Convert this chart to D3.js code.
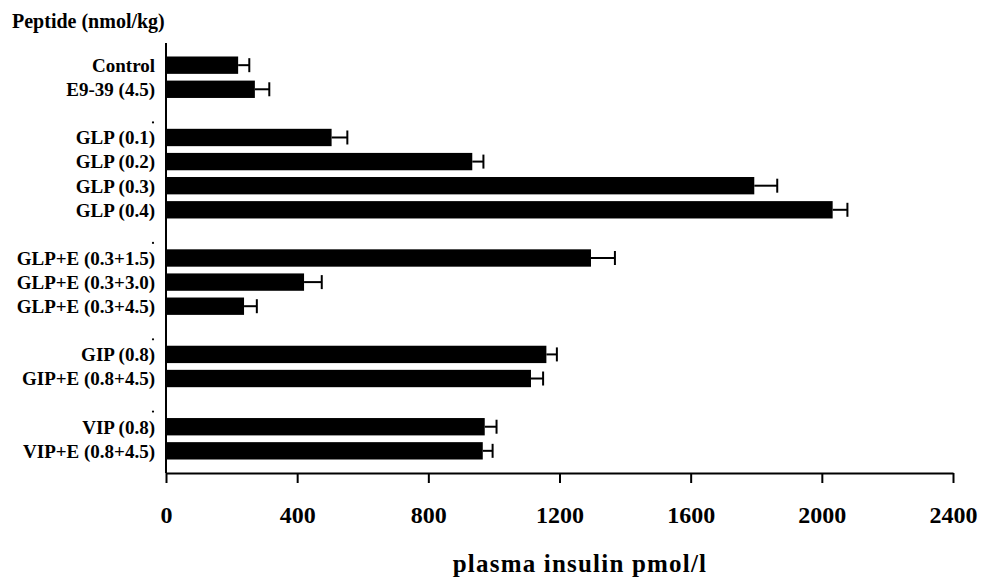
<!DOCTYPE html>
<html>
<head>
<meta charset="utf-8">
<script src="https://cdn.jsdelivr.net/npm/d3@7"></script>
<style>
  html, body { margin: 0; padding: 0; background: #fff; }
  svg { display: block; }
  text { font-family: "Liberation Serif", "Times New Roman", serif; fill: #000; }
</style>
</head>
<body>
<svg id="chart" width="981" height="578"></svg>
<script>
// ---- data ----
const labels = ["Control", "E9-39 (4.5)",
  "GLP (0.1)", "GLP (0.2)", "GLP (0.3)", "GLP (0.4)",
  "GLP+E (0.3+1.5)", "GLP+E (0.3+3.0)", "GLP+E (0.3+4.5)",
  "GIP (0.8)", "GIP+E (0.8+4.5)",
  "VIP (0.8)", "VIP+E (0.8+4.5)"];
const groups = [0, 0, 1, 1, 1, 1, 2, 2, 2, 3, 3, 4, 4];
const means  = [220, 271, 505, 934, 1794, 2033, 1296, 421, 238, 1160, 1113, 972, 966];
const sems   = [34, 44, 48, 34, 70, 45, 73, 54, 39, 32, 37, 36, 30];
const xTicks = [0, 400, 800, 1200, 1600, 2000, 2400];
const yTitle = "Peptide (nmol/kg)";
const xTitle = "plasma insulin pmol/l";

// ---- layout ----
const svg = d3.select("#chart");
const mLeft = 166, mRight = 953, mTop = 43, mBottom = 473;

const rows = labels.map((l, i) => ({ label: l, slot: i + groups[i], mean: means[i], sem: sems[i] }));
const nSlots = d3.max(rows, d => d.slot) + 1;
const gapSlots = d3.range(nSlots).filter(s => !rows.some(r => r.slot === s));

const x = d3.scaleLinear().domain([0, 2400]).range([mLeft, mRight]);
const y = d3.scaleBand().domain(d3.range(nSlots)).range([mTop, mBottom])
  .paddingInner(0.28).paddingOuter(0.56);
const bw = y.bandwidth();

// bars
svg.append("g").selectAll("rect").data(rows).join("rect")
  .attr("x", x(0))
  .attr("y", d => y(d.slot))
  .attr("width", d => x(d.mean) - x(0))
  .attr("height", bw)
  .attr("fill", "#000");

// error bars
const eg = svg.append("g").attr("stroke", "#000").attr("stroke-width", 2).attr("fill", "none");
eg.selectAll("line.h").data(rows).join("line").attr("class", "h")
  .attr("x1", d => x(d.mean)).attr("x2", d => x(d.mean + d.sem))
  .attr("y1", d => y(d.slot) + bw / 2).attr("y2", d => y(d.slot) + bw / 2);
eg.selectAll("line.c").data(rows).join("line").attr("class", "c")
  .attr("x1", d => x(d.mean + d.sem)).attr("x2", d => x(d.mean + d.sem))
  .attr("y1", d => y(d.slot) + bw / 2 - 7).attr("y2", d => y(d.slot) + bw / 2 + 7);

// category labels
svg.append("g").selectAll("text").data(rows).join("text")
  .attr("x", 155)
  .attr("y", d => y(d.slot) + bw / 2)
  .attr("dy", "0.36em")
  .attr("text-anchor", "end")
  .attr("font-size", 19)
  .attr("font-weight", "bold")
  .text(d => d.label);

// small separator dots
svg.append("g").selectAll("circle").data(gapSlots).join("circle")
  .attr("cx", 153)
  .attr("cy", s => y(s) + bw / 2 + 9)
  .attr("r", 1.1)
  .attr("fill", "#000");

// y axis line
svg.append("line")
  .attr("x1", mLeft).attr("x2", mLeft)
  .attr("y1", mTop).attr("y2", mBottom)
  .attr("stroke", "#000").attr("stroke-width", 2);

// x axis
const xAxis = d3.axisBottom(x).tickValues(xTicks).tickFormat(d3.format("d"))
  .tickSize(10).tickSizeOuter(0).tickPadding(23);
const gx = svg.append("g").attr("transform", `translate(0,${mBottom})`).call(xAxis);
gx.select(".domain").attr("stroke-width", 2);
gx.selectAll(".tick line").attr("stroke-width", 2);
gx.selectAll(".tick text")
  .attr("font-family", "Liberation Serif, Times New Roman, serif")
  .attr("font-size", 24).attr("font-weight", "bold").attr("fill", "#000");

// titles
svg.append("text")
  .attr("x", 12).attr("y", 28)
  .attr("font-size", 20).attr("font-weight", "bold")
  .text(yTitle);

svg.append("text")
  .attr("x", 580).attr("y", 572)
  .attr("text-anchor", "middle")
  .attr("font-size", 25).attr("font-weight", "bold")
  .attr("letter-spacing", 1.2)
  .text(xTitle);
</script>
</body>
</html>
